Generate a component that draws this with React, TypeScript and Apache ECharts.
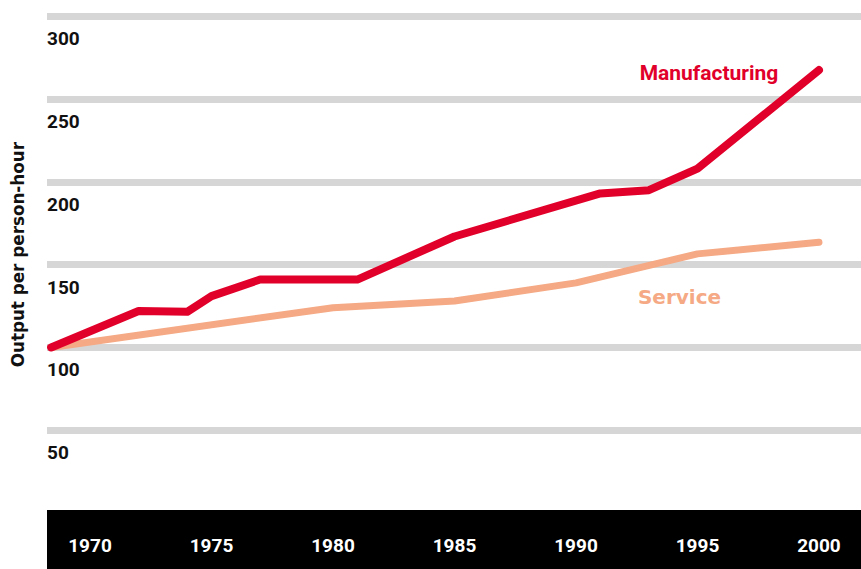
import React, { useEffect, useRef } from "react";
import * as echarts from "echarts";

const mfgYears = [1968.4, 1972, 1974, 1975, 1977, 1981, 1985, 1991, 1993, 1995, 2000];
const mfgValues = [100, 122, 121.5, 131, 141, 141, 167, 193, 195, 208, 267.5];
const svcYears = [1968.4, 1980, 1985, 1990, 1995, 2000];
const svcValues = [100, 124, 128, 139, 156.5, 163.5];
const xTickLabels = [1970, 1975, 1980, 1985, 1990, 1995, 2000];
const seriesNames = ["Manufacturing", "Service"];
const yTitle = "Output per person-hour";

const RED = "#e1002a";
const SALMON = "#f5a984";
const FONT = "Roboto, 'Noto Sans', sans-serif";
const WIDE = "'DejaVu Sans', Roboto, sans-serif";

export default function App() {
  const ref = useRef<HTMLDivElement>(null);
  useEffect(() => {
    if (!ref.current) return;
    const chart = echarts.init(ref.current, undefined, { renderer: "svg" });
    const mfg = mfgYears.map((y, i) => [y, mfgValues[i]]);
    const svc = svcYears.map((y, i) => [y, svcValues[i]]);
    chart.setOption({
      animation: false,
      backgroundColor: "#ffffff",
      grid: {
        left: 47,
        right: 0,
        top: 16.3,
        bottom: 56,
        containLabel: false,
        outerBoundsMode: "none",
      },
      xAxis: {
        type: "value",
        min: 1968.23,
        max: 2001.73,
        axisLine: { show: false },
        axisTick: { show: false },
        splitLine: { show: false },
        axisLabel: {
          customValues: xTickLabels,
          formatter: (v: number) => String(v),
          color: "#ffffff",
          fontFamily: FONT,
          fontWeight: "bold",
          fontSize: 19,
          margin: 23,
        },
      },
      yAxis: {
        type: "value",
        min: 0,
        max: 300,
        interval: 50,
        name: yTitle,
        nameLocation: "middle",
        nameRotate: 90,
        nameGap: 21,
        nameTextStyle: {
          color: "#111111",
          fontFamily: WIDE,
          fontWeight: "bold",
          fontSize: 16.8,
          padding: [0, 0, 0, 20],
        },
        axisLine: { show: false },
        axisTick: { show: false },
        splitLine: {
          show: true,
          showMinLine: false,
          lineStyle: { color: "#d6d6d6", width: 7 },
        },
        axisLabel: {
          inside: true,
          margin: 0,
          showMinLabel: false,
          verticalAlign: "top",
          padding: [13, 0, 0, 0],
          color: "#111111",
          fontFamily: FONT,
          fontWeight: "bold",
          fontSize: 19,
        },
      },
      graphic: [
        {
          type: "rect",
          z: -1,
          shape: { x: 47, y: 510, width: 814, height: 59 },
          style: { fill: "#000000" },
          silent: true,
        },
        {
          type: "text",
          x: 709,
          y: 73,
          style: {
            text: seriesNames[0],
            fill: RED,
            font: `bold 21px ${FONT}`,
            textAlign: "center",
            textVerticalAlign: "middle",
          },
        },
        {
          type: "text",
          x: 679.5,
          y: 297,
          style: {
            text: seriesNames[1],
            fill: SALMON,
            font: `bold 20px ${WIDE}`,
            textAlign: "center",
            textVerticalAlign: "middle",
          },
        },
      ],
      series: [
        {
          name: seriesNames[1],
          type: "line",
          data: svc,
          showSymbol: false,
          lineStyle: { color: SALMON, width: 7, cap: "round", join: "round" },
          z: 2,
        },
        {
          name: seriesNames[0],
          type: "line",
          data: mfg,
          showSymbol: false,
          lineStyle: { color: RED, width: 8, cap: "round", join: "round" },
          z: 3,
        },
      ],
    });
    return () => chart.dispose();
  }, []);
  return <div ref={ref} style={{ width: 861, height: 569, position: "absolute", left: 0, top: 0 }} />;
}
